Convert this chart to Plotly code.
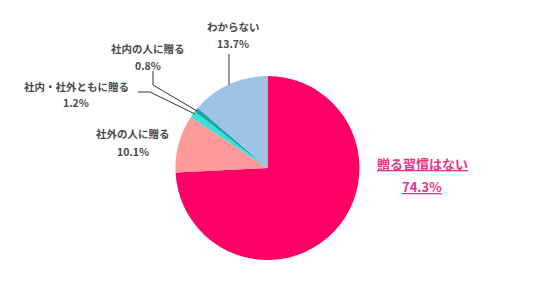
import plotly.graph_objects as go

labels = ["贈る習慣はない", "社外の人に贈る", "社内・社外ともに贈る", "社内の人に贈る", "わからない"]
values = [74.3, 10.1, 1.2, 0.8, 13.7]
colors = ["#FF0066", "#FF9A9A", "#3EDCD8", "#1BA6A6", "#9DC3E6"]

W, H = 536, 297

fig = go.Figure(go.Pie(
    labels=labels, values=values, sort=False, direction="clockwise", rotation=0,
    marker=dict(colors=colors, line=dict(width=0)),
    textinfo="none", hoverinfo="label+percent", showlegend=False,
    domain=dict(x=[175 / W, 360 / W], y=[1 - 260 / H, 1 - 76 / H]),
))

font = "Noto Sans CJK JP"
gray = "#4a4a4a"

def px(x, y):
    return x / W, 1 - y / H

ann = []
def add_label(x, y, name, val, color=gray, size=10.5, gap=17):
    ax, ay = px(x, y)
    ann.append(dict(x=ax, y=ay, xref="paper", yref="paper", showarrow=False,
                    text=f"<b>{name}</b>", font=dict(family=font, size=size, color=color),
                    xanchor="center", yanchor="middle"))
    bx, by = px(x, y + gap)
    ann.append(dict(x=bx, y=by, xref="paper", yref="paper", showarrow=False,
                    text=f"<b>{val}</b>", font=dict(family=font, size=size, color=color),
                    xanchor="center", yanchor="middle"))

add_label(233, 26, labels[4], f"{values[4]}%")
add_label(148, 48, labels[3], f"{values[3]}%")
add_label(76, 86, labels[2], f"{values[2]}%")
add_label(133, 134, labels[1], f"{values[1]}%")

# main label, pink underlined
mx, my = px(422, 163)
ann.append(dict(x=mx, y=my, xref="paper", yref="paper", showarrow=False,
                text=f"<b><u>{labels[0]}</u></b>", font=dict(family=font, size=13, color="#E8338A"),
                xanchor="center", yanchor="middle"))
mx, my = px(422, 186)
ann.append(dict(x=mx, y=my, xref="paper", yref="paper", showarrow=False,
                text=f"<b><u>{values[0]}%</u></b>", font=dict(family=font, size=13, color="#E8338A"),
                xanchor="center", yanchor="middle"))

shapes = []
def line_path(points):
    pts = [px(x, y) for x, y in points]
    d = "M " + " L ".join(f"{a},{b}" for a, b in pts)
    shapes.append(dict(type="path", path=d, xref="paper", yref="paper",
                       line=dict(color="#333333", width=1)))

line_path([(229, 54), (229, 85)])
line_path([(153, 71), (153, 85), (197, 111)])
line_path([(138, 92), (150, 92), (195, 114)])

fig.update_layout(
    width=W, height=H, margin=dict(l=0, r=0, t=0, b=0),
    paper_bgcolor="white", plot_bgcolor="white",
    annotations=ann, shapes=shapes,
)

fig.write_html("out.html")
